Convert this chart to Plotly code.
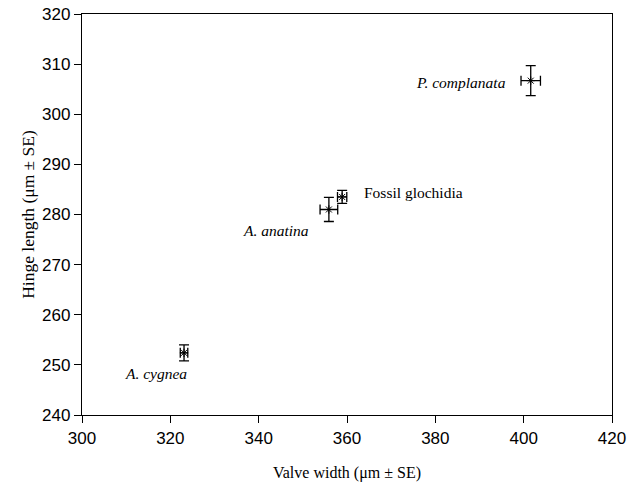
import plotly.graph_objects as go

species = ["P. complanata", "Fossil glochidia", "A. anatina", "A. cygnea"]
valve_width = [401.6, 358.9, 355.9, 323.1]
valve_width_se = [2.2, 1.05, 2.0, 0.85]
hinge_length = [306.7, 283.5, 281.0, 252.4]
hinge_length_se = [3.0, 1.3, 2.4, 1.6]
label_italic = [True, False, True, True]

x_ticks = [300, 320, 340, 360, 380, 400, 420]
y_ticks = [240, 250, 260, 270, 280, 290, 300, 310, 320]

fig = go.Figure()
fig.add_trace(go.Scatter(
    x=valve_width, y=hinge_length, mode="markers",
    marker=dict(symbol="asterisk-open", size=7, color="black",
                line=dict(color="black", width=1)),
    error_x=dict(type="data", array=valve_width_se, visible=True,
                 color="black", thickness=1.3, width=5),
    error_y=dict(type="data", array=hinge_length_se, visible=True,
                 color="black", thickness=1.3, width=5),
    showlegend=False, hoverinfo="skip"))

# labels
pos = [
    dict(xanchor="right", yanchor="middle", xshift=-23, yshift=-2),
    dict(xanchor="left", yanchor="middle", xshift=20, yshift=4),
    dict(xanchor="right", yanchor="middle", xshift=-18, yshift=-21),
    dict(xanchor="right", yanchor="middle", xshift=5, yshift=-21),
]
for s, xv, yv, it, p in zip(species, valve_width, hinge_length, label_italic, pos):
    txt = f"<i>{s}</i>" if it else s
    fig.add_annotation(x=xv, y=yv, text=txt, showarrow=False,
                       font=dict(family="Liberation Serif", size=15.5, color="black"),
                       **p)

axis_common = dict(showgrid=False, zeroline=False, showline=True, linecolor="black",
                   linewidth=1.3, mirror=True, ticks="outside", ticklen=7,
                   tickcolor="black", tickwidth=1.3, automargin=False,
                   tickfont=dict(family="Liberation Sans", size=17, color="black"))

fig.update_layout(
    width=629, height=484,
    margin=dict(l=82, r=17, t=14, b=69),
    paper_bgcolor="white", plot_bgcolor="white",
    xaxis=dict(range=[300, 420], tickvals=x_ticks,
               title=dict(text="Valve width (μm ± SE)", standoff=20,
                          font=dict(family="Liberation Serif", size=16, color="black")),
               **axis_common),
    yaxis=dict(range=[240, 320], tickvals=y_ticks,
               title=dict(text="Hinge length (μm ± SE)", standoff=2,
                          font=dict(family="Liberation Serif", size=17.5, color="black")),
               **axis_common),
)

# remove the default 8px page margin so the figure sits at the window's corner
fig.write_html("out.html", config={"displayModeBar": False},
               post_script="document.body.style.margin='0';document.body.style.overflow='hidden';")
